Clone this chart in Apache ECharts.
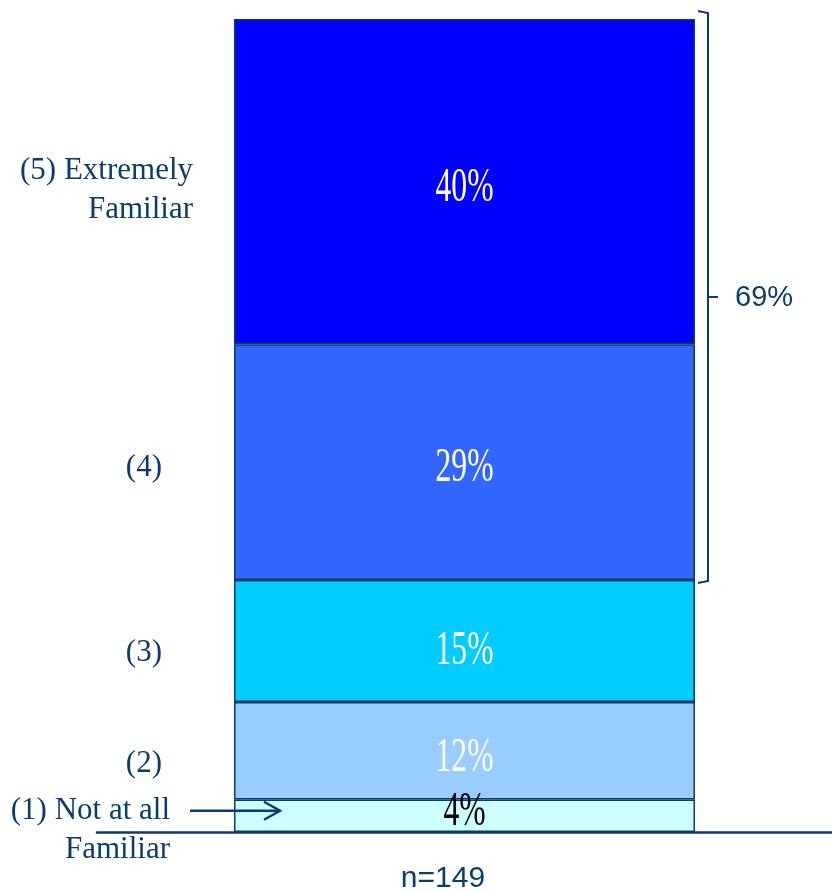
<!DOCTYPE html>
<html>
<head>
<meta charset="utf-8">
<script src="https://cdn.jsdelivr.net/npm/echarts@6/dist/echarts.min.js"></script>
<style>
  html, body { margin: 0; padding: 0; background: #fff; }
  #chart { width: 832px; height: 892px; }
</style>
</head>
<body>
<div id="chart"></div>
<script>
// Familiarity ratings, bottom (1) to top (5)
const levels = ['(1) Not at all\nFamiliar', '(2)', '(3)', '(4)', '(5) Extremely\nFamiliar'];
const shares = [4, 12, 15, 29, 40];
const fills = ['#CCFFFF', '#99CCFF', '#00CCFF', '#3366FF', '#0000FF'];
const labelColors = ['#000000', '#FFFFFF', '#FFFFFF', '#FFFFFF', '#FFFFFF'];
const topTwoLevels = [3, 4];
const topTwoLabel = '69%';
const sampleNote = 'n=149';

const NAVY = '#0B3C6E';
const chart = echarts.init(document.getElementById('chart'));

// cumulative tops and segment midpoints of the stack
const cum = [];
shares.reduce((acc, v, i) => { cum[i] = acc + v; return acc + v; }, 0);
const mids = shares.map((v, i) => cum[i] - v / 2);

const series = shares.map((v, i) => ({
  name: levels[i],
  type: 'bar',
  stack: 'total',
  barWidth: 461,
  data: [v],
  itemStyle: { color: fills[i], borderColor: '#0A3A6A', borderWidth: 1.5 },
  emphasis: { disabled: true }
}));

// Condensed serif value labels centred on each segment
const labelDy = [-3, 8, 10, 6, 7];
series.push({
  type: 'custom',
  z: 10,
  data: shares.map((v, i) => [0, mids[i], v, i]),
  renderItem: function (params, api) {
    const idx = api.value(3);
    const pt = api.coord([api.value(0), api.value(1)]);
    return {
      type: 'text',
      x: pt[0],
      y: pt[1] + labelDy[idx],
      scaleX: 0.66,
      style: {
        text: api.value(2) + '%',
        font: '48px "Liberation Serif"',
        fill: labelColors[idx],
        textAlign: 'center',
        textVerticalAlign: 'middle'
      }
    };
  }
});

chart.setOption({
  animation: false,
  grid: { left: 97, right: 0, top: 19, bottom: 60 },
  xAxis: {
    type: 'category',
    data: [''],
    axisLine: { lineStyle: { color: '#0A3A6A', width: 2.5 } },
    axisTick: { show: false },
    axisLabel: { show: false }
  },
  yAxis: {
    type: 'value',
    min: 0,
    max: 100,
    show: false,
    splitLine: { show: false }
  },
  series
});

function yPix(v) { return chart.convertToPixel({ yAxisIndex: 0 }, v); }

// Level names on the left
const levelX = [170, 162, 162, 162, 193];
const levelDy = [15, 13, 12, 6, 9];
const graphics = levels.map((t, i) => ({
  type: 'text',
  z: 100,
  x: levelX[i],
  y: yPix(mids[i]) + levelDy[i],
  style: {
    text: t,
    fill: NAVY,
    font: '31px "Liberation Serif"',
    textAlign: 'right',
    textVerticalAlign: 'middle',
    lineHeight: 39
  }
}));

// Bracket around the top two levels
const bTop = yPix(cum[topTwoLevels[1]]) - 8;
const bBot = yPix(cum[topTwoLevels[0] - 1]) + 3;
const bMid = (bTop + bBot) / 2;
graphics.push({
  type: 'polyline',
  z: 100,
  shape: { points: [[698, bTop], [708, bTop + 2], [708, bBot - 2], [698, bBot]] },
  style: { stroke: NAVY, lineWidth: 2, fill: null }
});
graphics.push({
  type: 'line',
  z: 100,
  shape: { x1: 708, y1: bMid, x2: 718, y2: bMid },
  style: { stroke: NAVY, lineWidth: 2 }
});
graphics.push({
  type: 'text',
  z: 100,
  x: 735,
  y: bMid + 1,
  style: {
    text: topTwoLabel,
    fill: NAVY,
    font: '29px "Liberation Sans"',
    textAlign: 'left',
    textVerticalAlign: 'middle'
  }
});

// Arrow pointing at the smallest segment
const arrowY = yPix(mids[0]) - 5;
graphics.push({
  type: 'line',
  z: 100,
  shape: { x1: 190, y1: arrowY, x2: 280, y2: arrowY },
  style: { stroke: NAVY, lineWidth: 2.5 }
});
graphics.push({
  type: 'polyline',
  z: 100,
  shape: { points: [[264, arrowY - 9], [280, arrowY], [264, arrowY + 9]] },
  style: { stroke: NAVY, lineWidth: 2.5, fill: null }
});

// Sample size note
graphics.push({
  type: 'text',
  z: 100,
  x: 443,
  y: 879,
  style: {
    text: sampleNote,
    fill: NAVY,
    font: '30px "Liberation Sans"',
    textAlign: 'center',
    textVerticalAlign: 'middle'
  }
});

chart.setOption({ graphic: graphics });
</script>
</body>
</html>
